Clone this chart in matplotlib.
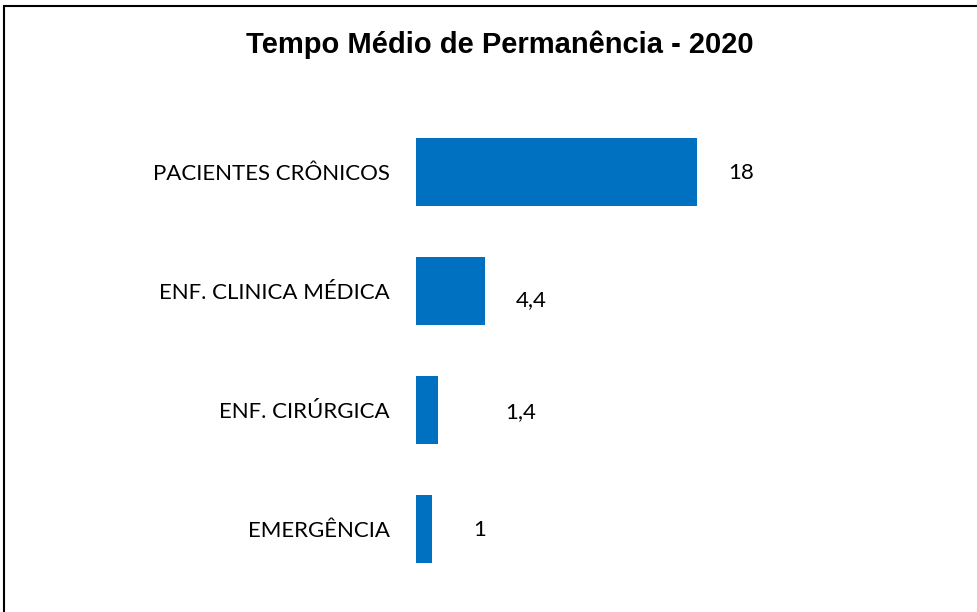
import matplotlib
matplotlib.use("Agg")
import matplotlib.pyplot as plt
from matplotlib.patches import Rectangle

categories = ["PACIENTES CRÔNICOS", "ENF. CLINICA MÉDICA", "ENF. CIRÚRGICA", "EMERGÊNCIA"]
values = [18, 4.4, 1.4, 1]
value_labels = ["18", "4,4", "1,4", "1"]
title = "Tempo Médio de Permanência - 2020"

# label offsets in pixels (style only)
label_dx = [44, 47, 83, 48]
label_dy = [-1, -9, -2, -1]

W, H, DPI = 978, 612, 100
fig = plt.figure(figsize=(W / DPI, H / DPI), dpi=DPI)
fig.patch.set_facecolor("white")

left_px, right_px = 416, 916
top_px, bot_px = 112.5, 588.5
ax = fig.add_axes([left_px / W, 1 - bot_px / H, (right_px - left_px) / W, (bot_px - top_px) / H])

ypos = list(range(len(categories)))
ax.barh(ypos, values, height=0.57, color="#0070C0")
ax.set_ylim(len(categories) - 0.5, -0.5)
ax.set_xlim(0, (right_px - left_px) / 15.6)

for y, v, lab, dx, dy in zip(ypos, values, value_labels, label_dx, label_dy):
    ax.annotate(lab, xy=(v, y), xytext=(dx, dy), textcoords="offset pixels",
                ha="center", va="center", fontsize=16, family="Lato", color="black")

ax.set_yticks(ypos)
ax.set_yticklabels(categories, family="Lato", fontsize=16)
ax.tick_params(axis="y", length=0, pad=19)
ax.set_xticks([])
for s in ax.spines.values():
    s.set_visible(False)

fig.text(500 / W, 1 - 45 / H, title, ha="center", va="center",
         fontsize=21, fontweight="bold", family="Liberation Sans")

fig.patches.append(Rectangle((4 / W, -0.1), 1.1, 1 - 6 / H + 0.1, transform=fig.transFigure,
                             fill=False, edgecolor="black", linewidth=1.5))

fig.savefig("out.png", dpi=DPI)
